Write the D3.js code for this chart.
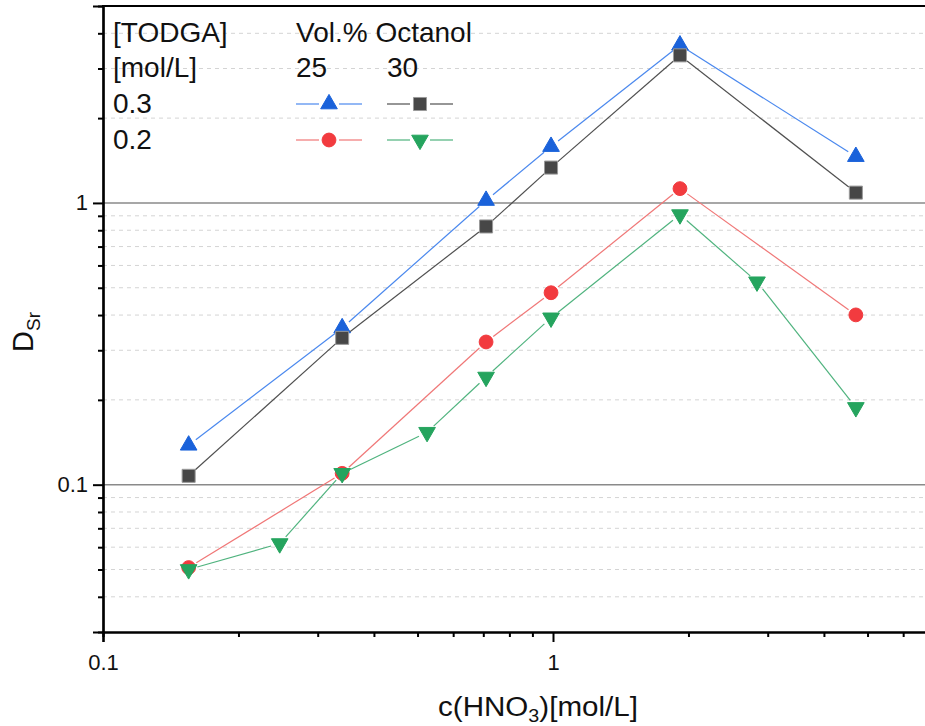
<!DOCTYPE html>
<html>
<head>
<meta charset="utf-8">
<script src="https://cdn.jsdelivr.net/npm/d3@7"></script>
<style>
  html, body { margin: 0; padding: 0; background: #fff; }
  svg { display: block; font-family: Arial, "Liberation Sans", sans-serif; }
</style>
</head>
<body>
<div id="chart"></div>
<script>
/* HNO3 concentration (mol/L) for each measured point */
const xMain = [0.155, 0.34, 0.71, 0.99, 1.915, 4.71];
const xGreen = [0.155, 0.247, 0.34, 0.525, 0.71, 0.99, 1.915, 2.84, 4.71];

/* D_Sr values: [TODGA] mol/L, vol.% octanol */
const dTodga03Oct25 = [0.138, 0.36, 1.02, 1.585, 3.63, 1.46];
const dTodga03Oct30 = [0.1075, 0.332, 0.825, 1.335, 3.34, 1.088];
const dTodga02Oct25 = [0.0508, 0.1097, 0.321, 0.48, 1.124, 0.4005];
const dTodga02Oct30 = [0.05, 0.0618, 0.1097, 0.1535, 0.241, 0.391, 0.909, 0.525, 0.188];

const xMajorTicks = [0.1, 1];
const xMinorTicks = [0.2, 0.3, 0.4, 0.5, 0.6, 0.7, 0.8, 0.9, 2, 3, 4, 5, 6];
const yMajorTicks = [0.1, 1];
const yMinorTicks = [0.04, 0.05, 0.06, 0.07, 0.08, 0.09,
    0.2, 0.3, 0.4, 0.5, 0.6, 0.7, 0.8, 0.9, 2, 3, 4];

const legendTitle = ['[TODGA]', '[mol/L]'];
const legendHeader = ['Vol.% Octanol'];
const legendColumns = ['25', '30'];
const legendRows = ['0.3', '0.2'];

const width = 925;
const height = 726;

const series = [
  { x: xMain, y: dTodga03Oct25, line: '#4a88ee', fill: '#1a62da',
    stroke: '#1a62da', shape: 'up', row: 0, col: 0 },
  { x: xMain, y: dTodga03Oct30, line: '#505050', fill: '#474747',
    stroke: '#9a9a9a', shape: 'square', row: 0, col: 1 },
  { x: xMain, y: dTodga02Oct25, line: '#f07777', fill: '#f23b3f',
    stroke: '#f23b3f', shape: 'circle', row: 1, col: 0 },
  { x: xGreen, y: dTodga02Oct30, line: '#4fb37e', fill: '#25a45e',
    stroke: '#25a45e', shape: 'down', row: 1, col: 1 },
];

const x = d3.scaleLog().domain([0.1, 10]).range([103, 1003]);
const y = d3.scaleLog().domain([0.03, 5]).range([632, 6]);

const svg = d3.select('#chart')
    .append('svg')
    .attr('width', width)
    .attr('height', height)
    .attr('viewBox', `0 0 ${width} ${height}`);

/* Grid lines */
const gridD3 = svg.append('g').attr('class', 'grid');
gridD3.selectAll('line.minor')
    .data(yMinorTicks)
    .join('line')
    .attr('class', 'minor')
    .attr('x1', x(0.1)).attr('x2', width)
    .attr('y1', d => y(d)).attr('y2', d => y(d))
    .attr('stroke', '#d4d4d4')
    .attr('stroke-width', 1)
    .attr('stroke-dasharray', '4,4');
gridD3.selectAll('line.major')
    .data(yMajorTicks)
    .join('line')
    .attr('class', 'major')
    .attr('x1', x(0.1)).attr('x2', width)
    .attr('y1', d => y(d)).attr('y2', d => y(d))
    .attr('stroke', '#8a8a8a')
    .attr('stroke-width', 1.5);

/* Axes */
function styleAxis(g) {
  g.attr('font-size', null).attr('font-family', null);
  g.selectAll('.domain').attr('stroke', '#000').attr('stroke-width', 2.2);
  g.selectAll('.tick line').attr('stroke', '#000').attr('stroke-width', 2);
  g.selectAll('.tick text')
      .style('font-size', '22px')
      .style('font-family', 'Arial, "Liberation Sans", sans-serif')
      .attr('fill', '#111');
}

const xAxisMajor = d3.axisBottom(x).tickValues(xMajorTicks)
    .tickSize(10).tickPadding(10).tickFormat(d3.format('~g'));
const xAxisMinor = d3.axisBottom(x).tickValues(xMinorTicks)
    .tickSize(5).tickFormat('');
svg.append('g').attr('transform', `translate(0,${y(0.03)})`)
    .call(xAxisMinor).call(styleAxis);
svg.append('g').attr('transform', `translate(0,${y(0.03)})`)
    .call(xAxisMajor).call(styleAxis)
    .selectAll('.tick text').attr('dy', '0.8em');

const yAxisMajor = d3.axisLeft(y).tickValues(yMajorTicks)
    .tickSize(10).tickPadding(5).tickFormat(d3.format('~g'));
const yAxisMinor = d3.axisLeft(y).tickValues(yMinorTicks)
    .tickSize(5).tickFormat('');
svg.append('g').attr('transform', `translate(${x(0.1)},0)`)
    .call(yAxisMinor).call(styleAxis);
svg.append('g').attr('transform', `translate(${x(0.1)},0)`)
    .call(yAxisMajor).call(styleAxis);

/* Top frame line */
svg.append('line')
    .attr('x1', x(0.1) - 1).attr('x2', width)
    .attr('y1', y(5)).attr('y2', y(5))
    .attr('stroke', '#000').attr('stroke-width', 2.2);

/* Axis titles */
const xTitle = svg.append('text')
    .attr('x', 538).attr('y', 716)
    .attr('text-anchor', 'middle')
    .attr('font-size', 27)
    .attr('fill', '#111')
    .attr('textLength', 200)
    .attr('lengthAdjust', 'spacingAndGlyphs');
xTitle.append('tspan').text('c(HNO');
xTitle.append('tspan').attr('font-size', 18).attr('dy', 6).text('3');
xTitle.append('tspan').attr('dy', -6).text(')[mol/L]');

const yTitle = svg.append('text')
    .attr('transform', 'translate(33,332) rotate(-90)')
    .attr('text-anchor', 'middle')
    .attr('font-size', 29)
    .attr('fill', '#111');
yTitle.append('tspan').text('D');
yTitle.append('tspan').attr('font-size', 19).attr('dy', 7).text('Sr');

/* Markers */
function symbolPath(shape) {
  const types = {
    up: d3.symbol(d3.symbolTriangle, 120),
    down: d3.symbol(d3.symbolTriangle, 120),
    square: d3.symbol(d3.symbolSquare, 170),
    circle: d3.symbol(d3.symbolCircle, 150),
  };
  return types[shape]();
}

function drawMarker(g, s, cx, cy) {
  const rot = s.shape === 'down' ? ' rotate(180)' : '';
  g.append('path')
      .attr('d', symbolPath(s.shape))
      .attr('transform', `translate(${cx},${cy})${rot}`)
      .attr('fill', s.fill)
      .attr('stroke', s.stroke)
      .attr('stroke-width', 1);
}

/* Line segments with a small gap around each marker */
function gappedSegments(pts, gap) {
  const segs = [];
  for (let i = 0; i < pts.length - 1; i++) {
    const [x0, y0] = pts[i];
    const [x1, y1] = pts[i + 1];
    const len = Math.hypot(x1 - x0, y1 - y0);
    if (len <= gap * 2) continue;
    const ux = (x1 - x0) / len;
    const uy = (y1 - y0) / len;
    segs.push([x0 + ux * gap, y0 + uy * gap, x1 - ux * gap, y1 - uy * gap]);
  }
  return segs;
}

const plotD3 = svg.append('g').attr('class', 'series');
for (let s of series) {
  const pts = s.x.map((xv, i) => [x(xv), y(s.y[i])]);
  const gD3 = plotD3.append('g');
  gD3.selectAll('line')
      .data(gappedSegments(pts, 9))
      .join('line')
      .attr('x1', d => d[0]).attr('y1', d => d[1])
      .attr('x2', d => d[2]).attr('y2', d => d[3])
      .attr('stroke', s.line)
      .attr('stroke-width', 1.2);
}
for (let s of series) {
  const gD3 = plotD3.append('g');
  s.x.forEach((xv, i) => drawMarker(gD3, s, x(xv), y(s.y[i])));
}

/* Legend */
const legendD3 = svg.append('g').attr('class', 'legend')
    .attr('font-size', 28).attr('fill', '#111');
const leftX = 113;
const colX = [296, 387];
const lineBaselines = [42, 77, 113, 149];

legendTitle.forEach((t, i) => {
  legendD3.append('text').attr('x', leftX).attr('y', lineBaselines[i]).text(t);
});
legendRows.forEach((t, i) => {
  legendD3.append('text').attr('x', leftX).attr('y', lineBaselines[i + 2]).text(t);
});
legendD3.append('text').attr('x', colX[0]).attr('y', lineBaselines[0])
    .text(legendHeader[0]);
legendColumns.forEach((t, i) => {
  legendD3.append('text').attr('x', colX[i]).attr('y', lineBaselines[1]).text(t);
});

for (let s of series) {
  const cy = lineBaselines[s.row + 2] - 9;
  const x0 = colX[s.col];
  const x1 = x0 + 66;
  const cx = (x0 + x1) / 2;
  legendD3.append('line')
      .attr('x1', x0).attr('x2', cx - 10)
      .attr('y1', cy).attr('y2', cy)
      .attr('stroke', s.line).attr('stroke-width', 1.2);
  legendD3.append('line')
      .attr('x1', cx + 10).attr('x2', x1)
      .attr('y1', cy).attr('y2', cy)
      .attr('stroke', s.line).attr('stroke-width', 1.2);
  drawMarker(legendD3, s, cx, cy);
}
</script>
</body>
</html>
